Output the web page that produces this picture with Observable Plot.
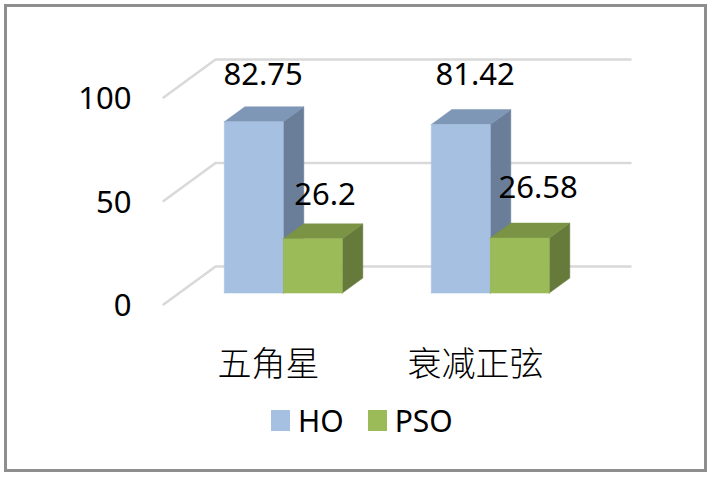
<!DOCTYPE html>
<html>
<head>
<meta charset="utf-8">
<script src="https://cdn.jsdelivr.net/npm/d3@7"></script>
<script src="https://cdn.jsdelivr.net/npm/@observablehq/plot@0.6"></script>
<style>
  html, body { margin: 0; padding: 0; background: #fff; }
  #wrap { position: relative; width: 709px; height: 477px; overflow: hidden; font-family: "Noto Sans", sans-serif; }
  #border { position: absolute; left: 4px; top: 4px; width: 697px; height: 462px; border: 3px solid #8e8e8e; }
  #chart { position: absolute; left: 0; top: 0; }
  #chart svg { background: transparent; }
  #legend { position: absolute; left: 271px; top: 400px; height: 40px; display: flex; align-items: center; font-size: 30px; color: #000; }
  #legend i { display: block; width: 19px; height: 21px; margin-right: 8px; }
  #legend span { display: block; }
</style>
</head>
<body>
<div id="wrap">
  <div id="border"></div>
  <div id="chart"></div>
  <div id="legend"></div>
</div>
<script>
// Data
const categories = ["五角星", "衰减正弦"];
const seriesNames = ["HO", "PSO"];
const hoValues = [82.75, 81.42];
const psoValues = [26.2, 26.58];
const yTicks = [0, 50, 100];

// Styles
const frontColors = ["#a5c0e0", "#9bbb59"];
const topColors = ["#7f97b6", "#7a9345"];
const sideColors = ["#6a7e9a", "#667b3b"];
const gridColor = "#d9d9d9";
const labelNudge = [[[8.5, -47], [13.5, -49]], [[11.5, -44], [17.5, -50]]];

// Oblique projection, in scale units
const depthX = 0.2512, depthY = 18.36;
const barW = 0.285, barDepthFront = 0.3, barDepthBack = 0.695;
const gridLeft = -0.507, gridRight = 1.4976;
const px = (x, d) => x + d * depthX;
const py = (v, d) => v + d * depthY;

const values = [hoValues, psoValues];
const faces = [];
const face = (id, color, pts) => pts.concat([pts[0]]).forEach(([x, v, d]) =>
  faces.push({id, color, x: px(x, d), y: py(v, d)}));

values.forEach((vals, s) => vals.forEach((v, i) => {
  const x0 = i + (s - 1) * barW - 0.004, x1 = x0 + barW;
  const f = barDepthFront, b = barDepthBack;
  face(`side-${s}-${i}`, sideColors[s], [[x1, 0, f], [x1, 0, b], [x1, v, b], [x1, v, f]]);
  face(`top-${s}-${i}`, topColors[s], [[x0, v, f], [x1, v, f], [x1, v, b], [x0, v, b]]);
  face(`front-${s}-${i}`, frontColors[s], [[x0, 0, f], [x1, 0, f], [x1, v, f], [x0, v, f]]);
}));

const grid = yTicks.flatMap(t => [
  {t, x: px(gridLeft, 0), y: py(t, 0)},
  {t, x: px(gridLeft, 1), y: py(t, 1)},
  {t, x: px(gridRight, 1), y: py(t, 1)}
]);

const labels = values.flatMap((vals, s) => vals.map((v, i) => ({
  s, v, i,
  x: px(i + (s - 1) * barW + barW / 2, barDepthFront),
  y: py(v, barDepthFront)
})));

const plot = Plot.plot({
  width: 709,
  height: 395,
  marginLeft: 131,
  marginBottom: 30,
  marginTop: 0,
  marginRight: 0,
  x: {domain: [0, 1], range: [268, 475]},
  y: {domain: [0, 100], range: [304, 97]},
  style: {background: "transparent", fontFamily: "'Noto Sans', sans-serif", color: "#000"},
  marks: [
    Plot.line(grid, {x: "x", y: "y", z: "t", stroke: gridColor, strokeWidth: 2.5}),
    Plot.line(faces, {x: "x", y: "y", z: "id", fill: "color", stroke: "color", strokeWidth: 0.5}),
    ...labels.map(l => Plot.text([l], {
      x: "x", y: "y", text: d => String(d.v),
      dx: labelNudge[l.s][l.i][0], dy: labelNudge[l.s][l.i][1],
      fontSize: 31, fill: "#000", lineAnchor: "middle"
    })),
    Plot.axisY({ticks: yTicks, tickSize: 0, tickPadding: 0, fontSize: 31, label: null, anchor: "left", textAnchor: "end", dy: 2}),
    Plot.axisX({
      ticks: [0, 1], tickSize: 0, tickPadding: 0, label: null,
      tickFormat: i => categories[i], fontSize: 34, lineAnchor: "middle",
      fontFamily: "'Noto Sans CJK SC', sans-serif", fontWeight: 300
    })
  ]
});
document.getElementById("chart").appendChild(plot);

const legend = document.getElementById("legend");
seriesNames.forEach((name, s) => {
  const sw = document.createElement("i");
  sw.style.background = frontColors[s];
  const t = document.createElement("span");
  t.textContent = name;
  t.style.marginRight = s === 0 ? "24px" : "0";
  legend.append(sw, t);
});
</script>
</body>
</html>
